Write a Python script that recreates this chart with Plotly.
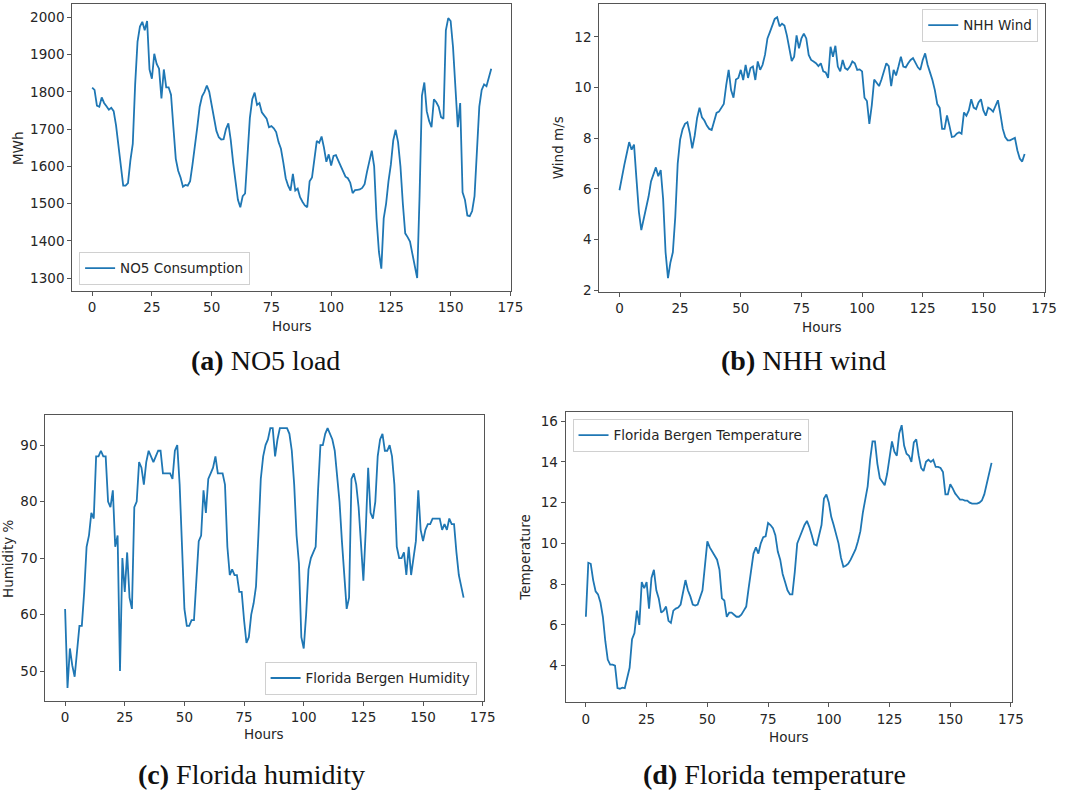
import plotly.graph_objects as go

W, H = 1072, 799

hours = list(range(168))

no5_consumption = [
    1811, 1805, 1763, 1760, 1785, 1770, 1761, 1752, 1757, 1748,
    1710, 1650, 1590, 1548, 1548, 1555, 1615, 1660, 1820, 1935,
    1975, 1988, 1965, 1990, 1860, 1835, 1902, 1875, 1862, 1782,
    1860, 1812, 1812, 1792, 1705, 1620, 1588, 1570, 1545, 1550,
    1548, 1560, 1605, 1650, 1705, 1760, 1788, 1800, 1817, 1800,
    1765, 1725, 1695, 1678, 1672, 1673, 1700, 1715, 1670, 1610,
    1555, 1510, 1490, 1520, 1527, 1630, 1730, 1780, 1798, 1765,
    1770, 1745, 1735, 1728, 1705, 1708, 1702, 1692, 1665, 1647,
    1610, 1568, 1548, 1535, 1580, 1535, 1540, 1517, 1505, 1495,
    1490, 1560, 1570, 1620, 1668, 1663, 1680, 1650, 1612, 1632,
    1602, 1628, 1630, 1615, 1600, 1585, 1572, 1568, 1556, 1528,
    1536, 1537, 1538, 1542, 1552, 1585, 1615, 1642, 1600, 1460,
    1370, 1325, 1460, 1500, 1560, 1605, 1670, 1698, 1665, 1600,
    1500, 1420, 1410, 1398, 1365, 1330, 1300, 1520, 1790, 1825,
    1748, 1722, 1705, 1780, 1772, 1760, 1732, 1728, 1965, 1998,
    1990, 1920, 1810, 1705, 1770, 1530, 1510, 1468, 1466, 1480,
    1520, 1640, 1760, 1805, 1820, 1815, 1840, 1862,
]

nhh_wind = [
    5.95, 6.5, 6.95, 7.4, 7.85, 7.55, 7.75, 6.4, 5.1, 4.38,
    4.8, 5.3, 5.7, 6.3, 6.56, 6.85, 6.5, 6.75, 5.6, 3.5,
    2.48, 3.1, 3.5, 4.9, 7.0, 7.95, 8.35, 8.57, 8.63, 8.2,
    7.6, 8.1, 8.8, 9.21, 8.83, 8.7, 8.5, 8.37, 8.33, 8.7,
    9.0, 9.05, 9.19, 9.35, 10.1, 10.7, 9.9, 9.6, 10.32, 10.38,
    10.7, 10.3, 10.9, 10.38, 10.77, 10.83, 10.3, 11.03, 10.7, 10.9,
    11.3, 11.94, 12.19, 12.45, 12.71, 12.78, 12.42, 12.52, 12.45, 12.06,
    11.55, 11.05, 11.22, 12.06, 11.55, 11.94, 12.13, 11.94, 11.29, 11.09,
    11.03, 10.96, 10.85, 10.96, 10.64, 10.6, 10.38, 11.61, 11.22, 11.65,
    10.83, 10.64, 11.09, 10.77, 10.7, 10.83, 11.03, 10.96, 10.7, 10.72,
    10.64, 9.6, 9.47, 8.57, 9.3, 10.32, 10.19, 10.06, 10.32, 10.64,
    10.96, 10.85, 10.06, 10.7, 10.48, 10.83, 11.22, 10.83, 10.8, 10.96,
    11.09, 11.16, 11.0, 10.8, 10.7, 11.09, 11.35, 10.9, 10.6, 10.3,
    9.9, 9.35, 9.2, 8.37, 8.37, 8.9, 8.5, 8.05, 8.07, 8.18,
    8.24, 8.18, 9.02, 8.89, 9.1, 9.54, 9.21, 9.15, 9.41, 9.54,
    9.1, 8.89, 9.21, 9.15, 9.05, 9.3, 9.5, 8.96, 8.37, 8.05,
    7.92, 7.92, 7.98, 8.02, 7.53, 7.2, 7.08, 7.38,
]

humidity = [
    61, 47, 54, 51, 49, 53, 58, 58, 64, 72,
    74, 78, 77, 88, 88, 89, 88, 88, 80, 79,
    82, 72, 74, 50, 70, 64, 71, 63, 61, 79,
    80, 87, 86, 83, 87, 89, 88, 87, 88, 89,
    89, 85, 85, 85, 85, 84, 89, 90, 83, 72,
    61, 58, 58, 59, 59, 66, 73, 74, 82, 78,
    84, 85, 86, 88, 85, 85, 85, 83, 72, 67,
    68, 67, 67, 64, 64, 59, 55, 56, 60, 62,
    65, 74, 84, 88, 90, 91, 93, 93, 88, 91,
    93, 93, 93, 93, 92, 89, 83, 74, 69, 56,
    54, 60, 68, 70, 71, 72, 82, 90, 90, 92,
    93, 92, 91, 89, 85, 80, 73, 66, 61, 63,
    84, 85, 83, 79, 73, 66, 75, 86, 78, 77,
    80, 88, 91, 92, 89, 89, 90, 88, 83, 72,
    70, 70, 71, 67, 72, 67, 70, 73, 82, 75,
    73, 75, 76, 76, 77, 77, 77, 77, 75, 76,
    75, 77, 76, 76, 71, 67, 65, 63,
]

temperature = [
    6.4, 9.05, 9.0, 8.2, 7.65, 7.5, 7.1, 6.4, 5.2, 4.3,
    4.05, 4.05, 4.0, 2.9, 2.87, 2.92, 2.9, 3.4, 3.9, 5.3,
    5.6, 6.7, 6.0, 8.1, 7.8, 8.1, 6.8, 8.3, 8.7, 7.7,
    7.3, 6.6, 6.7, 6.9, 6.2, 6.1, 6.7, 6.8, 6.85, 7.0,
    7.7, 8.2, 7.7, 7.4, 7.0, 6.95, 7.0, 7.3, 7.7, 8.9,
    10.1, 9.8, 9.6, 9.4, 9.2, 8.7, 7.3, 7.2, 6.4, 6.6,
    6.6, 6.5, 6.4, 6.4, 6.5, 6.7, 6.9, 7.8, 8.8, 9.5,
    9.8, 9.5, 10.0, 10.3, 10.35, 11.0, 10.9, 10.75, 10.4, 9.6,
    9.2, 8.5, 8.1, 7.7, 7.5, 7.5, 8.6, 10.0, 10.3, 10.6,
    10.9, 11.1, 10.8, 10.4, 9.95, 9.9, 10.4, 10.9, 12.2, 12.4,
    12.0, 11.3, 10.9, 10.5, 10.0, 9.3, 8.85, 8.9, 9.0, 9.2,
    9.45, 9.7, 10.1, 10.6, 11.5, 12.1, 12.8, 14.1, 15.0, 15.0,
    13.9, 13.2, 13.0, 12.85, 13.4, 14.1, 15.0, 14.5, 14.3, 15.4,
    15.8, 14.8, 14.4, 14.3, 14.0, 14.95, 15.1, 14.3, 13.7, 13.55,
    14.0, 14.1, 14.0, 14.1, 13.75, 13.75, 13.7, 13.5, 12.4, 12.4,
    12.9, 12.7, 12.45, 12.3, 12.15, 12.15, 12.1, 12.1, 12.0, 11.95,
    11.95, 11.95, 12.0, 12.1, 12.4, 12.9, 13.5, 13.95,
]

x_ticks = [0, 25, 50, 75, 100, 125, 150, 175]

BLUE = "#1f77b4"
TEXT_COLOR = "#262626"
TICK_FONT = dict(family="DejaVu Sans", size=13.5, color=TEXT_COLOR)
LABEL_FONT = dict(family="DejaVu Sans", size=13.5, color=TEXT_COLOR)
LINE_COLOR = "#555555"


def px_x(v):
    return v / W


def px_y(v):
    return 1 - v / H


# panel boxes in pixels: left, top, right, bottom
panels = [
    dict(box=(73, 4.3, 517, 293.3), yrange=[1265, 2035], ydtick=100, y0=1300,
         series=no5_consumption, name="NO5 Consumption", ytitle="MWh",
         ytitle_x=17.6, xtitle_y=328,
         legend=dict(x=px_x(80), y=px_y(287), xanchor="left", yanchor="bottom"),
         caption="<b>(a)</b> NO5 load", cap_x=269, cap_y=363),
    dict(box=(606, 4.0, 1056.7, 294.3), yrange=[1.93, 13.3], ydtick=2, y0=2,
         series=nhh_wind, name="NHH Wind", ytitle="Wind m/s",
         ytitle_x=564.5, xtitle_y=329,
         legend=dict(x=px_x(1050), y=px_y(9), xanchor="right", yanchor="top"),
         caption="<b>(b)</b> NHH wind", cap_x=813, cap_y=363),
    dict(box=(45.7, 418.3, 489, 706.3), yrange=[44.7, 95.3], ydtick=10, y0=50,
         series=humidity, name="Florida Bergen Humidity", ytitle="Humidity %",
         ytitle_x=8, xtitle_y=740,
         legend=dict(x=px_x(482), y=px_y(700), xanchor="right", yanchor="bottom"),
         caption="<b>(c)</b> Florida humidity", cap_x=254, cap_y=780),
    dict(box=(572, 415, 1023.3, 707.7), yrange=[2.2, 16.45], ydtick=2, y0=4,
         series=temperature, name="Florida Bergen Temperature", ytitle="Temperature",
         ytitle_x=530.6, xtitle_y=743,
         legend=dict(x=px_x(579), y=px_y(422), xanchor="left", yanchor="top"),
         caption="<b>(d)</b> Florida temperature", cap_x=783, cap_y=780),
]

fig = go.Figure()
layout = dict(
    width=W, height=H,
    margin=dict(l=0, r=0, t=0, b=0),
    paper_bgcolor="white", plot_bgcolor="white",
    font=dict(family="DejaVu Sans", size=13, color=TEXT_COLOR),
    annotations=[],
)

for i, p in enumerate(panels, start=1):
    sfx = "" if i == 1 else str(i)
    leg = "legend" if i == 1 else f"legend{i}"
    left, top, right, bottom = p["box"]
    fig.add_trace(go.Scatter(
        x=hours, y=p["series"], mode="lines", name=p["name"],
        line=dict(color=BLUE, width=1.8),
        xaxis=f"x{sfx}", yaxis=f"y{sfx}", legend=leg, showlegend=True,
    ))
    common = dict(showline=True, mirror=True, linecolor=LINE_COLOR, linewidth=1,
                  ticks="outside", ticklen=4, tickwidth=1, tickcolor=LINE_COLOR,
                  showgrid=False, zeroline=False, tickfont=TICK_FONT)
    layout[f"xaxis{sfx}"] = dict(
        domain=[px_x(left), px_x(right)], anchor=f"y{sfx}",
        range=[-8.35, 175.35], tickmode="array", tickvals=x_ticks, **common)
    layout[f"yaxis{sfx}"] = dict(
        domain=[px_y(bottom), px_y(top)], anchor=f"x{sfx}",
        range=p["yrange"], tick0=p["y0"], dtick=p["ydtick"], **common)
    layout[leg] = dict(
        **p["legend"], bgcolor="rgba(255,255,255,0.8)", bordercolor="#d0d0d0",
        borderwidth=1, font=LABEL_FONT)
    cy = (top + bottom) / 2
    layout["annotations"] += [
        dict(text=p["ytitle"], x=px_x(p["ytitle_x"]), y=px_y(cy), xref="paper",
             yref="paper", textangle=-90, showarrow=False, xanchor="center",
             yanchor="middle", font=LABEL_FONT),
        dict(text="Hours", x=px_x((left + right) / 2), y=px_y(p["xtitle_y"]),
             xref="paper", yref="paper", showarrow=False, xanchor="center",
             yanchor="middle", font=LABEL_FONT),
        dict(text=p["caption"], x=px_x(p["cap_x"]), y=px_y(p["cap_y"]),
             xref="paper", yref="paper", showarrow=False, xanchor="center",
             yanchor="middle", font=dict(family="Liberation Serif", size=28, color="#111111")),
    ]

fig.update_layout(**layout)
fig.write_html("out.html")
